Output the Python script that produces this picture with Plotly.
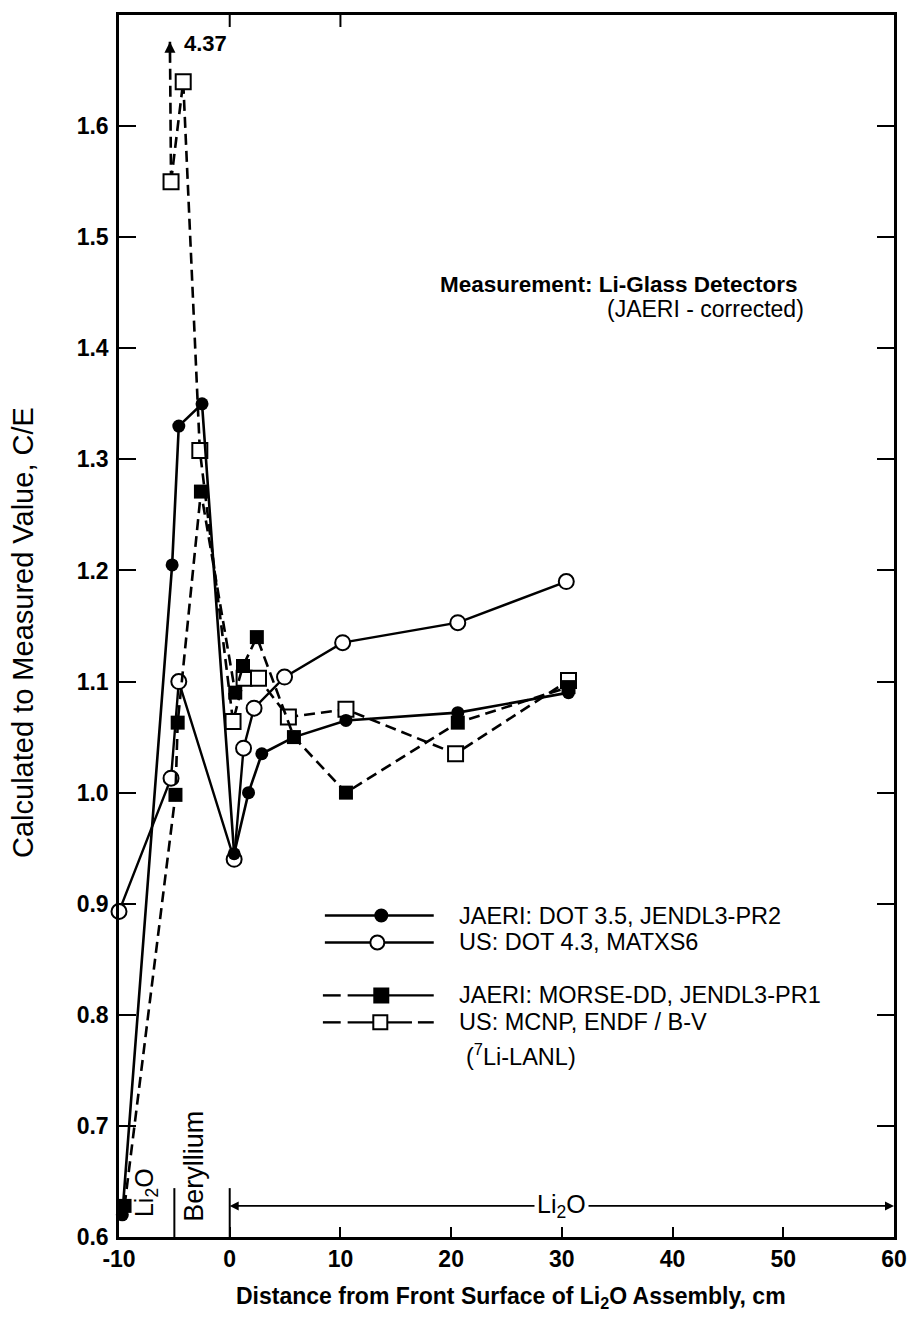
import plotly.graph_objects as go

# Distance from the front surface of the Li2O assembly (cm) and C/E ratios
dot35_x = [-9.7, -5.2, -4.6, -2.5, 0.4, 1.7, 2.9, 5.8, 10.5, 20.6, 30.6]
dot35_y = [0.62, 1.205, 1.33, 1.35, 0.945, 1.0, 1.035, 1.05, 1.065, 1.072, 1.09]

dot43_x = [-10.0, -5.3, -4.6, 0.4, 1.25, 2.2, 4.95, 10.2, 20.6, 30.4]
dot43_y = [0.893, 1.013, 1.10, 0.94, 1.04, 1.076, 1.104, 1.135, 1.153, 1.19]

morse_x = [-9.5, -4.9, -4.7, -2.6, 0.5, 1.2, 2.45, 5.8, 10.5, 20.6, 30.6]
morse_y = [0.628, 0.998, 1.063, 1.271, 1.09, 1.114, 1.14, 1.05, 1.0, 1.063, 1.095]

# first MCNP value is off scale (4.37)
mcnp_x = [-5.4, -5.3, -4.2, -2.7, 0.3, 1.3, 2.6, 5.3, 10.5, 20.4, 30.6]
mcnp_y = [4.37, 1.55, 1.64, 1.308, 1.064, 1.103, 1.103, 1.068, 1.075, 1.035, 1.101]

x_ticks = [-10, 0, 10, 20, 30, 40, 50, 60]
x_tick_text = ["-10", "0", "10", "20", "30", "40", "50", "60"]
y_ticks = [0.6, 0.7, 0.8, 0.9, 1.0, 1.1, 1.2, 1.3, 1.4, 1.5, 1.6]
y_tick_text = ["0.6", "0.7", "0.8", "0.9", "1.0", "1.1", "1.2", "1.3", "1.4", "1.5", "1.6"]

series_labels = [
    "JAERI: DOT 3.5, JENDL3-PR2",
    "US: DOT 4.3, MATXS6",
    "JAERI: MORSE-DD, JENDL3-PR1",
    "US: MCNP, ENDF / B-V",
]

FONT = "Liberation Sans, Arial, sans-serif"
INK = "black"
DASH = "11px,6px"
Y_TOP = 1.7
ARROW_TIP = 1.676  # where the off-scale arrow stops below the frame

# plot-area geometry (px)
WIDTH, HEIGHT = 919, 1320
L, R, T, B = 119, 902, 13, 1237
PW, PH = R - L, B - T


def fx(p):
    return (p - L) / PW


def fy(p):
    return (B - p) / PH


fig = go.Figure()

fig.add_trace(go.Scatter(
    x=dot43_x, y=dot43_y, mode="lines+markers", name=series_labels[1],
    line=dict(color=INK, width=2.4), cliponaxis=False,
    marker=dict(symbol="circle", size=15, color="white", line=dict(color=INK, width=2)),
))
# off-scale MCNP point: dashed rise toward it, ending in an arrow inside the frame
fig.add_trace(go.Scatter(
    x=[mcnp_x[1], mcnp_x[0]], y=[mcnp_y[1], min(mcnp_y[0], ARROW_TIP)],
    mode="lines", line=dict(color=INK, width=2.6, dash=DASH), hoverinfo="skip",
))
fig.add_trace(go.Scatter(
    x=mcnp_x[1:], y=mcnp_y[1:], mode="lines+markers", name=series_labels[3],
    line=dict(color=INK, width=2.6, dash=DASH),
    marker=dict(symbol="square", size=15, color="white", line=dict(color=INK, width=2)),
))
fig.add_trace(go.Scatter(
    x=morse_x, y=morse_y, mode="lines+markers", name=series_labels[2],
    line=dict(color=INK, width=2.6, dash=DASH), cliponaxis=False,
    marker=dict(symbol="square", size=14, color=INK),
))
fig.add_trace(go.Scatter(
    x=dot35_x, y=dot35_y, mode="lines+markers", name=series_labels[0],
    line=dict(color=INK, width=2.6), cliponaxis=False,
    marker=dict(symbol="circle", size=13, color=INK),
))

shapes = []
annotations = []

# region dividers along the bottom axis
for xv in (-5, 0):
    shapes.append(dict(type="line", xref="x", yref="y", x0=xv, x1=xv, y0=0.6, y1=0.644,
                       line=dict(color=INK, width=2)))

# short ticks on the top frame
for xv in (0, 10):
    shapes.append(dict(type="line", xref="x", yref="paper", x0=xv, x1=xv,
                       y0=1, y1=1 - 12 / PH, line=dict(color=INK, width=2)))

# Li2O extent arrow from x = 0 to x = 60
for end in (0, 60):
    annotations.append(dict(x=end, y=0.628, xref="x", yref="y", ax=30, ay=0.628,
                            axref="x", ayref="y", text="", showarrow=True,
                            arrowhead=2, arrowsize=1, arrowwidth=1.8, arrowcolor=INK))
annotations.append(dict(x=30, y=0.628, xref="x", yref="y", text="Li<sub>2</sub>O",
                        showarrow=False, bgcolor="white", borderpad=2,
                        font=dict(family=FONT, size=25, color=INK)))
annotations.append(dict(x=-7.6, y=0.6, xref="x", yref="y", text="Li<sub>2</sub>O",
                        textangle=-90, showarrow=False, yanchor="bottom", yshift=18,
                        font=dict(family=FONT, size=25, color=INK)))
annotations.append(dict(x=-3.3, y=0.6, xref="x", yref="y", text="Beryllium",
                        textangle=-90, showarrow=False, yanchor="bottom", yshift=13,
                        font=dict(family=FONT, size=27, color=INK)))

# arrowhead and value of the off-scale MCNP point
annotations.append(dict(x=mcnp_x[0], y=ARROW_TIP, xref="x", yref="y",
                        ax=mcnp_x[0], ay=ARROW_TIP - 0.02, axref="x", ayref="y",
                        text="", showarrow=True, arrowhead=2,
                        arrowsize=1.1, arrowwidth=2, arrowcolor=INK))
annotations.append(dict(x=mcnp_x[0], y=ARROW_TIP, xref="x", yref="y",
                        text=f"{mcnp_y[0]:.2f}", showarrow=False, xanchor="left",
                        yanchor="middle", xshift=12, yshift=-2,
                        font=dict(family=FONT, size=22, color=INK, weight="bold")))

# measurement note
annotations.append(dict(x=fx(441), y=fy(283), xref="paper", yref="paper",
                        text="Measurement: Li-Glass Detectors", showarrow=False,
                        xanchor="left", yanchor="middle",
                        font=dict(family=FONT, size=22.5, color=INK, weight="bold")))
annotations.append(dict(x=fx(610), y=fy(307), xref="paper", yref="paper",
                        text="(JAERI - corrected)", showarrow=False,
                        xanchor="left", yanchor="middle",
                        font=dict(family=FONT, size=23, color=INK)))

# hand-drawn style key
rows = [915, 942, 995, 1022]
seg_solid = [(327, 437)]
seg_mixed = [(325, 343), (350, 437)]
seg_dashed = [(325, 343), (350, 415), (421, 437)]
key_segments = [seg_solid, seg_solid, seg_mixed, seg_dashed]
key_marker = [("circle", INK, 384, 6), ("circle", "white", 380, 7),
              ("rect", INK, 384, 7), ("rect", "white", 383, 7)]
for row, segs, (kind, fill, mx, r), label in zip(rows, key_segments, key_marker, series_labels):
    for a, b in segs:
        shapes.append(dict(type="line", xref="paper", yref="paper",
                           x0=fx(a), x1=fx(b), y0=fy(row), y1=fy(row),
                           line=dict(color=INK, width=2.4)))
    shapes.append(dict(type="circle" if kind == "circle" else "rect",
                       xref="paper", yref="paper", xsizemode="pixel", ysizemode="pixel",
                       xanchor=fx(mx), yanchor=fy(row), x0=-r, x1=r, y0=-r, y1=r,
                       fillcolor=fill, line=dict(color=INK, width=2)))
    annotations.append(dict(x=fx(460), y=fy(row), xref="paper", yref="paper", text=label,
                            showarrow=False, xanchor="left", yanchor="middle",
                            font=dict(family=FONT, size=23.5, color=INK)))
annotations.append(dict(x=fx(468), y=fy(1038), xref="paper", yref="paper",
                        text="(<sup>7</sup>Li-LANL)", showarrow=False,
                        xanchor="left", yanchor="top",
                        font=dict(family=FONT, size=23.5, color=INK)))

# axis titles
annotations.append(dict(x=fx(22), y=fy(631), xref="paper", yref="paper",
                        xanchor="center", yanchor="middle",
                        text="Calculated to Measured Value, C/E", textangle=-90,
                        showarrow=False, font=dict(family=FONT, size=29, color=INK)))
annotations.append(dict(x=fx(515), y=fy(1298), xref="paper", yref="paper",
                        xanchor="center", yanchor="middle",
                        text="Distance from Front Surface of Li<sub>2</sub>O Assembly, cm",
                        showarrow=False, font=dict(family=FONT, size=23, color=INK, weight="bold")))

fig.update_layout(
    width=WIDTH, height=HEIGHT,
    margin=dict(l=L, r=WIDTH - R, t=T, b=HEIGHT - B),
    paper_bgcolor="white", plot_bgcolor="white",
    showlegend=False,
    shapes=shapes, annotations=annotations,
    font=dict(family=FONT, color=INK),
)
fig.update_xaxes(
    range=[-10, 60], tickvals=x_ticks, ticktext=x_tick_text,
    ticks="inside", ticklen=10, tickwidth=2, tickcolor=INK,
    showline=True, linewidth=2.5, linecolor=INK, mirror=True,
    showgrid=False, zeroline=False,
    tickfont=dict(family=FONT, size=23, color=INK, weight="bold"),
)
fig.update_yaxes(
    range=[0.6, Y_TOP], tickvals=y_ticks, ticktext=y_tick_text,
    ticks="inside", ticklen=17, tickwidth=2, tickcolor=INK,
    showline=True, linewidth=2.5, linecolor=INK, mirror="allticks",
    showgrid=False, zeroline=False, ticklabelstandoff=3,
    tickfont=dict(family=FONT, size=23, color=INK, weight="bold"),
)

fig.write_html("out.html")
